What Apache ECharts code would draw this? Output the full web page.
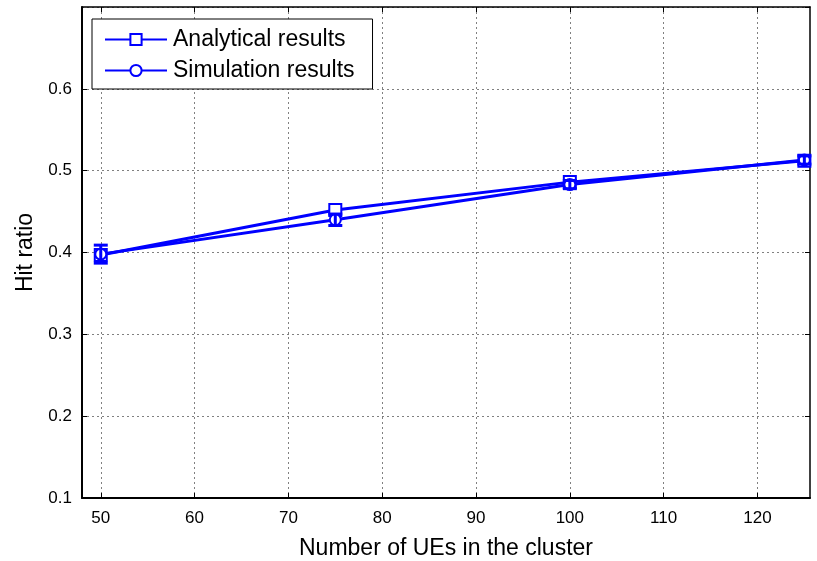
<!DOCTYPE html>
<html>
<head>
<meta charset="utf-8">
<script src="https://cdn.jsdelivr.net/npm/echarts@6/dist/echarts.min.js"></script>
<style>
html,body{margin:0;padding:0;background:#fff;}
#chart{width:817px;height:561px;}
</style>
</head>
<body>
<div id="chart"></div>
<script>
// Number of UEs in the cluster
const ues = [50, 75, 100, 125];
// Hit ratio from the analytical model
const analytical = [0.397, 0.452, 0.486, 0.512];
// Hit ratio from simulation and its error half-width
const simulation = [0.398, 0.440, 0.483, 0.513];
const simError = [0.011, 0.007, 0.005, 0.005];
const xTicks = [50, 60, 70, 80, 90, 100, 110, 120];
const yTicks = [0.1, 0.2, 0.3, 0.4, 0.5, 0.6, 0.7];

const BLUE = '#0000ff';
const FONT = 'Liberation Sans, Arial, sans-serif';

const chart = echarts.init(document.getElementById('chart'));

const analyticalData = ues.map((x, i) => [x, analytical[i]]);
const simulationData = ues.map((x, i) => [x, simulation[i]]);
const errorData = ues.map((x, i) => [x, simulation[i] - simError[i], simulation[i] + simError[i]]);

const gridLine = { show: true, lineStyle: { color: '#808080', type: [2, 3], width: 1 } };

chart.setOption({
  animation: false,
  backgroundColor: '#fff',
  grid: { left: 82, right: 7, top: 7, bottom: 63, containLabel: false, outerBoundsMode: 'none' },
  legend: {
    orient: 'vertical',
    left: 92,
    top: 19,
    padding: [9, 18, 7, 12],
    itemGap: 8,
    itemWidth: 62,
    itemHeight: 14,
    backgroundColor: '#fff',
    borderColor: '#000',
    borderWidth: 1,
    textStyle: { fontFamily: FONT, fontSize: 23, lineHeight: 23, color: '#000', padding: [0, 0, 0, 1] },
    data: ['Analytical results', 'Simulation results']
  },
  xAxis: [{
    type: 'value', min: 48, max: 125.6,
    axisLine: { show: true, onZero: false, lineStyle: { color: '#000', width: 2 } },
    axisTick: { show: true, inside: true, length: 5, lineStyle: { color: '#000' }, customValues: xTicks },
    axisLabel: {
      fontFamily: FONT, fontSize: 17, color: '#000', margin: 12,
      customValues: xTicks
    },
    splitLine: gridLine,
    name: 'Number of UEs in the cluster', nameLocation: 'middle', nameGap: 39,
    nameTextStyle: { fontFamily: FONT, fontSize: 23, color: '#000' }
  }, {
    type: 'value', min: 48, max: 125.6, position: 'top',
    axisLine: { show: true, onZero: false, lineStyle: { color: '#000', width: 1.5 } },
    axisTick: { show: true, inside: true, length: 5, lineStyle: { color: '#000' }, customValues: xTicks },
    axisLabel: { show: false, customValues: xTicks },
    splitLine: { show: false }
  }],
  yAxis: [{
    type: 'value', min: 0.1, max: 0.7, interval: 0.1,
    axisLine: { show: true, onZero: false, lineStyle: { color: '#000', width: 2 } },
    axisTick: { show: true, inside: true, length: 5, lineStyle: { color: '#000' } },
    axisLabel: {
      fontFamily: FONT, fontSize: 17, color: '#000', margin: 10,
      showMaxLabel: false,
      formatter: v => v.toFixed(1)
    },
    splitLine: gridLine,
    name: 'Hit ratio', nameLocation: 'middle', nameGap: 44,
    nameTextStyle: { fontFamily: FONT, fontSize: 23, color: '#000' }
  }, {
    type: 'value', min: 0.1, max: 0.7, interval: 0.1, position: 'right',
    axisLine: { show: true, onZero: false, lineStyle: { color: '#000', width: 1.5 } },
    axisTick: { show: true, inside: true, length: 5, lineStyle: { color: '#000' } },
    axisLabel: { show: false },
    splitLine: { show: false }
  }],
  series: [{
    name: 'Analytical results',
    type: 'line',
    data: analyticalData,
    symbol: 'emptyRect',
    symbolSize: 12,
    lineStyle: { color: BLUE, width: 3 },
    itemStyle: { color: BLUE, borderColor: BLUE, borderWidth: 2.5 },
    z: 3
  }, {
    name: 'Simulation results',
    type: 'line',
    data: simulationData,
    symbol: 'emptyCircle',
    symbolSize: 11,
    lineStyle: { color: BLUE, width: 3 },
    itemStyle: { color: BLUE, borderColor: BLUE, borderWidth: 1.5 },
    z: 4
  }, {
    name: 'Simulation error',
    type: 'custom',
    data: errorData,
    encode: { x: 0, y: [1, 2] },
    z: 5,
    renderItem: function (params, api) {
      const x = api.value(0);
      const lo = api.coord([x, api.value(1)]);
      const hi = api.coord([x, api.value(2)]);
      const cap = 7;
      const style = { stroke: BLUE, lineWidth: 3 };
      return {
        type: 'group',
        children: [
          { type: 'line', shape: { x1: lo[0], y1: lo[1], x2: hi[0], y2: hi[1] }, style: style },
          { type: 'line', shape: { x1: lo[0] - cap, y1: lo[1], x2: lo[0] + cap, y2: lo[1] }, style: style },
          { type: 'line', shape: { x1: hi[0] - cap, y1: hi[1], x2: hi[0] + cap, y2: hi[1] }, style: style }
        ]
      };
    }
  }]
});
</script>
</body>
</html>
